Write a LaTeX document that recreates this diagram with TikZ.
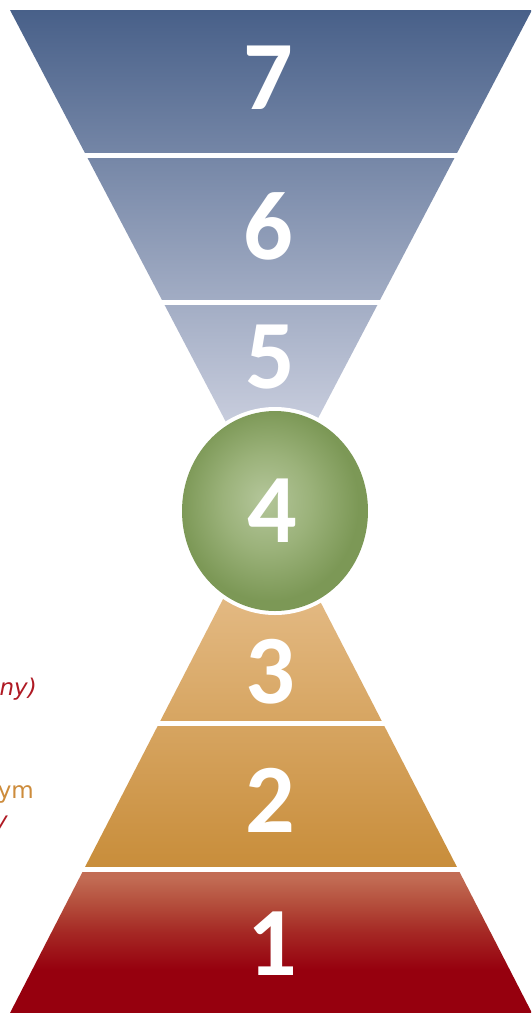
\documentclass[tikz,border=0pt]{standalone}
\usepackage{fontspec}
\setmainfont{DejaVu Sans}
\newfontfamily\numfont{Carlito}
\definecolor{blueTop}{RGB}{72,96,137}
\definecolor{blueBot}{RGB}{226,227,238}
\definecolor{tanTop}{RGB}{236,200,155}
\definecolor{tanBot}{RGB}{200,141,58}
\definecolor{redTop}{RGB}{194,108,84}
\definecolor{redUp}{RGB}{180,78,60}
\definecolor{redMid}{RGB}{165,40,36}
\definecolor{redBot}{RGB}{150,0,14}
\definecolor{ballIn}{RGB}{180,198,154}
\definecolor{ballMid}{RGB}{155,178,122}
\definecolor{ballOut}{RGB}{124,152,86}
\definecolor{fragRed}{RGB}{175,25,35}
\definecolor{fragOrange}{RGB}{205,140,60}
\pgfdeclareradialshading{ball}{\pgfpoint{-3bp}{3bp}}{color(0bp)=(ballIn); color(12bp)=(ballMid); color(24bp)=(ballOut); color(50bp)=(ballOut)}
\pgfdeclareverticalshading{redsh}{100bp}{color(0bp)=(redBot); color(25bp)=(redBot); color(40bp)=(redBot); color(53bp)=(redMid); color(63bp)=(redUp); color(72bp)=(redTop); color(100bp)=(redTop)}
\begin{document}
\begin{tikzpicture}[x=1pt,y=-1pt,
  num/.style={text=white,font=\numfont\bfseries\fontsize{98}{98}\selectfont,inner sep=0pt},
  gap/.style={white,line width=5pt},
  frag/.style={inner sep=0pt,font=\fontsize{23}{23}\selectfont}]
\useasboundingbox (0,0) rectangle (531,1013);
\clip (0,0) rectangle (531,1013);
\fill[white] (0,0) rectangle (531,1013);
% upper funnel
\shade[top color=blueTop,bottom color=blueBot] (10,10) -- (532,10) -- (271,508) -- cycle;
\draw[gap] (0,155.5) -- (531,155.5);
\draw[gap] (0,302.5) -- (531,302.5);
% lower pyramid
\shade[top color=tanTop,bottom color=tanBot] (271,506) -- (458,869) -- (84,869) -- cycle;
\shade[shading=redsh] (84,869) -- (458,869) -- (532,1013) -- (10,1013) -- cycle;
\draw[gap] (0,723.5) -- (531,723.5);
\draw[gap] (0,869.5) -- (531,869.5);
% circle
\fill[white] (275,511) ellipse [x radius=97pt, y radius=104pt];
\shade[shading=ball] (275,511) ellipse [x radius=93pt, y radius=100pt];
% numbers
\node[num] (n7) at (268,78) {7};
\node[num] (n6) at (268,226) {6};
\node[num] (n5) at (270,357) {5};
\node[num] (n4) at (272,511) {4};
\node[num] (n3) at (270,672) {3};
\node[num] (n2) at (270,800) {2};
\node[num] (n1) at (272,944) {1};
% clipped side texts
\node[frag,text=fragRed,font=\fontsize{23}{23}\selectfont\itshape,anchor=base east] (t1) at (37,695) {ny)};
\node[frag,text=fragOrange,anchor=base east] (t2) at (34,798) {ym};
\node[frag,text=fragRed,font=\fontsize{23}{23}\selectfont\itshape,anchor=base east] (t3) at (8,828) {y};
\end{tikzpicture}
\end{document}
